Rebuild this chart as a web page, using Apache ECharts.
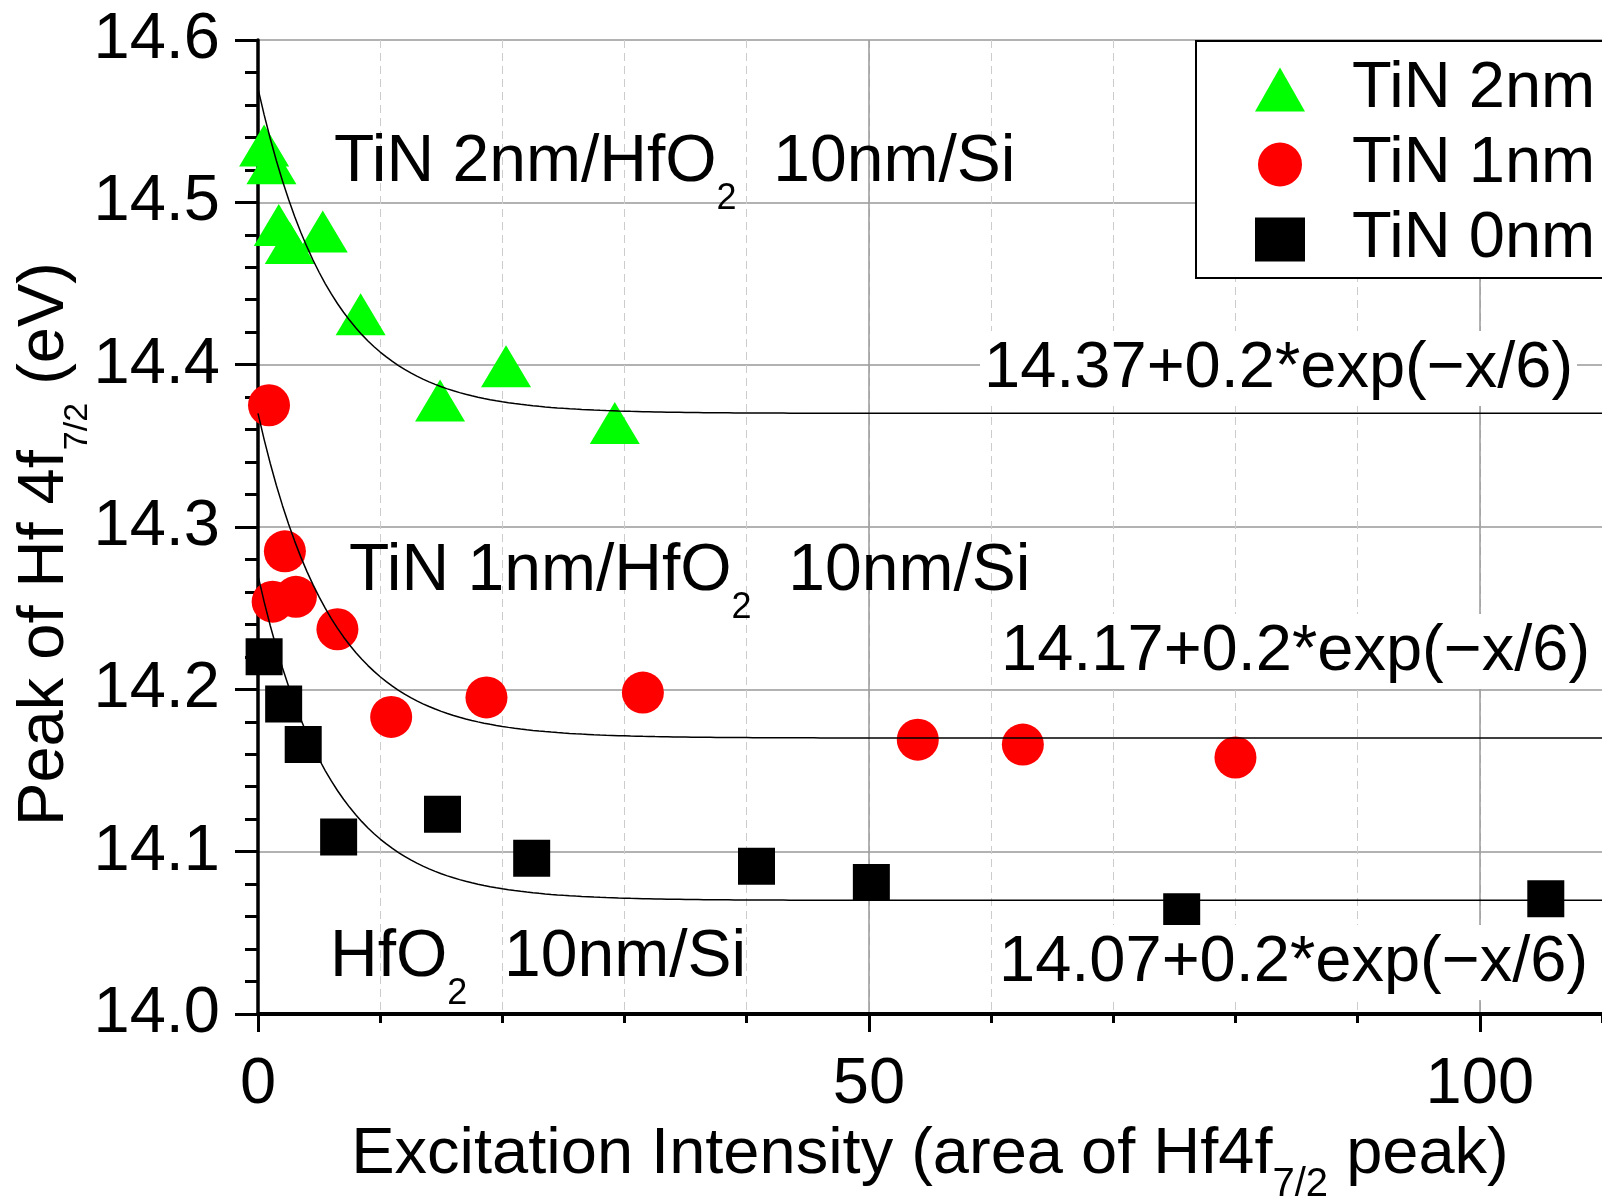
<!DOCTYPE html>
<html><head><meta charset="utf-8">
<script src="https://cdn.jsdelivr.net/npm/echarts@6/dist/echarts.min.js"></script>
<style>html,body{margin:0;padding:0;background:#fff}#c{width:1602px;height:1200px}</style>
</head><body><div id="c"></div>
<script>
// ---- data ----
const tin2X = [0.5, 1.1, 1.7, 2.6, 5.3, 8.4, 14.9, 20.3, 29.2];
const tin2Y = [14.535, 14.524, 14.486, 14.475, 14.482, 14.431, 14.378, 14.399, 14.364];
const tin1X = [0.9, 2.2, 1.2, 3.1, 6.5, 10.9, 18.7, 31.5, 54.0, 62.6, 80.0];
const tin1Y = [14.375, 14.285, 14.254, 14.257, 14.237, 14.183, 14.195, 14.198, 14.169, 14.166, 14.158];
const tin0X = [0.5, 2.1, 3.7, 6.6, 15.1, 22.4, 40.8, 50.2, 75.6, 105.4];
const tin0Y = [14.220, 14.191, 14.166, 14.109, 14.123, 14.096, 14.091, 14.081, 14.063, 14.071];
// fit functions printed on the chart: base + amp*exp(-x/tau)
const fitBase = [14.37, 14.17, 14.07];
const fitAmp = 0.2;
const fitTau = 6;
const seriesNames = ['TiN 2nm', 'TiN 1nm', 'TiN 0nm'];
const xTickLabels = [0, 50, 100];
const yTickLabels = ['14.0', '14.1', '14.2', '14.3', '14.4', '14.5', '14.6'];
const fitLabels = ['14.37+0.2*exp(\u2212x/6)', '14.17+0.2*exp(\u2212x/6)', '14.07+0.2*exp(\u2212x/6)'];

const FONT = "'Liberation Sans', Arial, sans-serif";
const pairs = (xs, ys) => xs.map((x, i) => [x, ys[i]]);
const fitCurve = (base) => {
  const pts = [];
  for (let i = 0; i <= 220; i++) { const x = i * 0.5; pts.push([x, base + fitAmp * Math.exp(-x / fitTau)]); }
  return pts;
};

const subRich = (fs, lh, sfs) => ({
  m: { fontSize: fs, fontFamily: FONT, color: '#000', lineHeight: lh, verticalAlign: 'top' },
  s: { fontSize: sfs, fontFamily: FONT, color: '#000', verticalAlign: 'bottom' }
});

const chart = echarts.init(document.getElementById('c'));
chart.setOption({
  animation: false,
  backgroundColor: '#fff',
  grid: { left: 258, right: 0, top: 40, bottom: 186, containLabel: false, outerBoundsMode: 'none' },
  legend: {
    data: seriesNames,
    orient: 'vertical',
    left: 1196, top: 41,
    padding: [11, 20, 1, 59],
    itemWidth: 50, itemHeight: 44, itemGap: 0,
    backgroundColor: '#fff', borderColor: '#000', borderWidth: 2,
    textStyle: { fontSize: 65, fontFamily: FONT, color: '#000', lineHeight: 75, padding: [0, 0, 0, 42] },
    z: 20
  },
  xAxis: [
    {
      type: 'value', min: 0, max: 110, interval: 10, position: 'bottom',
      axisLine: { show: true, onZero: false, lineStyle: { color: '#000', width: 4 } },
      axisTick: { show: true, length: 9, lineStyle: { color: '#000', width: 3 } },
      axisLabel: { show: false },
      splitLine: { show: true, lineStyle: { color: '#cccccc', width: 1, type: [8, 5] } }
    },
    {
      type: 'value', min: 0, max: 110, interval: 50, position: 'bottom',
      axisLine: { show: false, onZero: false },
      axisTick: { show: true, length: 18, customValues: xTickLabels, lineStyle: { color: '#000', width: 3 } },
      axisLabel: { fontSize: 65, fontFamily: FONT, color: '#000', margin: 39, customValues: xTickLabels,
        formatter: v => xTickLabels.includes(v) ? String(v) : '' },
      splitLine: { show: true, lineStyle: { color: '#999', width: 1.5 } },
      name: '{m|Excitation Intensity (area of Hf4f}{s|7/2}{m| peak)}',
      nameLocation: 'middle', nameGap: 108,
      nameTextStyle: { rich: subRich(65, 82, 40) }
    }
  ],
  yAxis: {
    type: 'value', min: 14.0, max: 14.6, interval: 0.1,
    axisLine: { show: true, lineStyle: { color: '#000', width: 3.5 } },
    axisTick: { show: true, length: 23, lineStyle: { color: '#000', width: 3 } },
    minorTick: { show: true, splitNumber: 5, length: 13, lineStyle: { color: '#000', width: 3 } },
    axisLabel: { fontSize: 65, fontFamily: FONT, color: '#000', margin: 38,
      formatter: v => yTickLabels[Math.round((v - 14.0) * 10)] },
    splitLine: { show: true, lineStyle: { color: '#999', width: 1.5 } },
    name: '{m|Peak of Hf 4f}{s|7/2}{m| (eV)}',
    nameLocation: 'middle', nameGap: 163, nameMoveOverlap: false,
    nameTextStyle: { rich: subRich(65, 82, 34), padding: [0, 34, 0, 0] }
  },
  series: [
    { name: seriesNames[0], type: 'scatter', symbol: 'triangle', symbolSize: [50, 42],
      itemStyle: { color: '#00ff00', opacity: 1 }, data: pairs(tin2X, tin2Y), z: 3 },
    { name: seriesNames[1], type: 'scatter', symbol: 'circle', symbolSize: 42,
      itemStyle: { color: '#ff0000', opacity: 1 }, data: pairs(tin1X, tin1Y), z: 3 },
    { name: seriesNames[2], type: 'scatter', symbol: 'rect', symbolSize: 37,
      itemStyle: { color: '#000000', opacity: 1 }, data: pairs(tin0X, tin0Y), z: 3 },
    ...fitBase.map((b, i) => ({
      name: 'fit' + i, type: 'line', showSymbol: false, silent: true, z: 5,
      lineStyle: { color: '#000', width: 1.5 }, data: fitCurve(b)
    }))
  ],
  graphic: [
    { type: 'text', x: 334, y: 130, z: 50,
      style: { text: '{m|TiN 2nm/HfO}{s|2}{m|  10nm/Si}', rich: subRich(66, 87, 36), verticalAlign: 'top', textVerticalAlign: 'top' } },
    { type: 'text', x: 349, y: 539, z: 50,
      style: { text: '{m|TiN 1nm/HfO}{s|2}{m|  10nm/Si}', rich: subRich(66, 87, 36), verticalAlign: 'top', textVerticalAlign: 'top' } },
    { type: 'text', x: 330, y: 925, z: 50,
      style: { text: '{m|HfO}{s|2}{m|  10nm/Si}', rich: subRich(66, 87, 36), verticalAlign: 'top', textVerticalAlign: 'top' } },
    { type: 'text', x: 980, y: 331, z: 50,
      style: { text: fitLabels[0], fontSize: 65, fontFamily: FONT, fill: '#000', backgroundColor: '#fff', padding: [6, 4, 4, 4], verticalAlign: 'top', textVerticalAlign: 'top' } },
    { type: 'text', x: 997, y: 614, z: 50,
      style: { text: fitLabels[1], fontSize: 65, fontFamily: FONT, fill: '#000', backgroundColor: '#fff', padding: [6, 4, 4, 4], verticalAlign: 'top', textVerticalAlign: 'top' } },
    { type: 'text', x: 995, y: 925, z: 50,
      style: { text: fitLabels[2], fontSize: 65, fontFamily: FONT, fill: '#000', backgroundColor: '#fff', padding: [6, 4, 4, 4], verticalAlign: 'top', textVerticalAlign: 'top' } }
  ]
});
</script></body></html>
